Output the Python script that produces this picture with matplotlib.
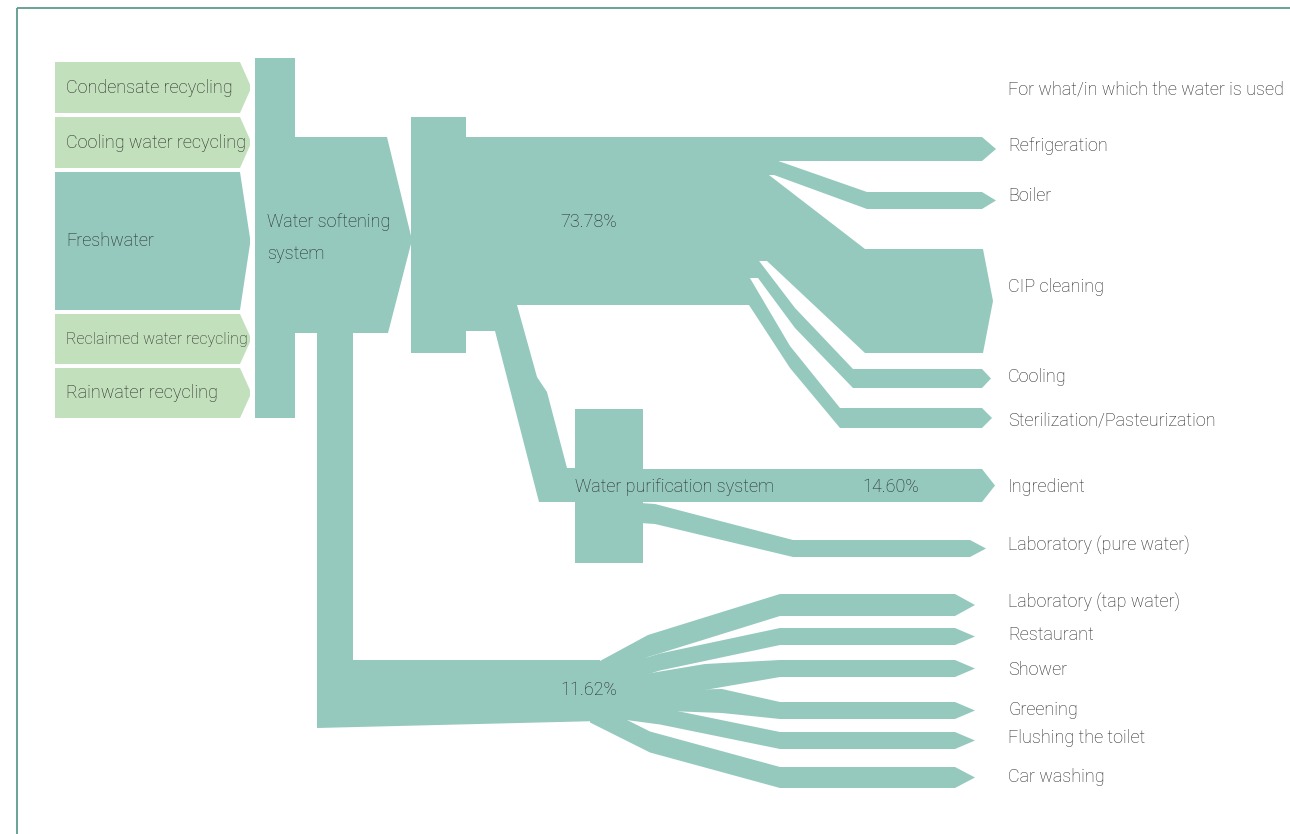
import numpy as np
import matplotlib
matplotlib.use("Agg")
import matplotlib.pyplot as plt
from matplotlib.patches import Polygon, Rectangle

# ---------------------------------------------------------------- DATA
source_labels = ["Condensate recycling", "Cooling water recycling", "Freshwater",
                 "Reclaimed water recycling", "Rainwater recycling"]
source_size = [51, 51, 138, 50, 50]            # relative inflow sizes (box heights)
source_is_fresh = [False, False, True, False, False]

node_labels = ["Water softening\nsystem", "Water purification system"]
branch_pct = [73.78, 14.60, 11.62]             # process water / purified water / tap water

uses_header = "For what/in which the water is used"
main_uses = ["Refrigeration", "Boiler", "CIP cleaning", "Cooling",
             "Sterilization/Pasteurization"]
main_use_size = [24, 17, 104, 19, 20]
pure_uses = ["Ingredient", "Laboratory (pure water)"]
pure_use_size = [33, 17]
tap_uses = ["Laboratory (tap water)", "Restaurant", "Shower", "Greening",
            "Flushing the toilet", "Car washing"]
tap_use_size = [22, 17, 17, 17, 17, 21]

# ---------------------------------------------------------------- STYLE
TEAL = "#95c9be"
GREEN = "#c2e0bb"
TXT = "#262626"
BORDER = "#5f9a8c"
FONT = ["Roboto", "Liberation Sans", "DejaVu Sans"]
WEIGHT = "light"
FS = 13.0

# ---------------------------------------------------------------- LAYOUT (pixels)
SRC = dict(x0=55, x1=240, tip=250, top=62, gap=4, text_x=66, text_max_x=246)
SOFT = dict(bar=(255, 58, 295, 418), arrow_x1=387, arrow_tip=412,
            arrow_top=137, arrow_bot=333, text=(267, 238))
NODE2 = (411, 117, 466, 353)
MAIN = dict(trunk=(466, 137, 745, 305),
            split_x=[700, 774, 767, 758, 749],
            split_w=[24, 14, 86, 17, 27],
            via=[[], [], [], [(795, 318, 20)], [(790, 357, 22)]],
            bend_x=[700, 867, 865, 853, 840],
            end_top=[137, 192, 249, 369, 408],
            body_end=[982, 982, 983, 982, 982],
            tip=[996, 996, 993, 991, 992],
            label_y=[146, 196, 287, 377, 420],
            pct_xy=(589, 222))
PURE = dict(node=(575, 409, 643, 563),
            branch=[(466, 305), (517, 305), (537, 377), (547, 392), (567, 468),
                    (600, 468), (600, 502), (539, 502), (495, 331), (466, 331)],
            starts=[[(600, None, None)], [(640, 513, 20), (655, 514, 20)]],
            bend_x=[600, 793],
            end_top=[469, 540],
            body_end=[982, 970], tip=[995, 986],
            label_y=[487, 545],
            text_xy=(575, 487), pct_xy=(891, 487))
TAP = dict(down=[(317, 333), (353, 333), (353, 660), (600, 660), (600, 721), (317, 728)],
           starts=[[(600, 672, 22), (648, 646, 22)],
                   [(600, 680, 17), (660, 662, 17)],
                   [(600, 690, 17), (705, 677, 26)],
                   [(600, 700, 17), (722, 701, 24)],
                   [(600, 708, 17), (660, 716, 17)],
                   [(590, 712, 21), (650, 742, 21)]],
           bend_x=780,
           end_top=[594, 628, 660, 702, 732, 767],
           body_end=955, tip=975,
           label_y=[602, 635, 670, 710, 738, 777],
           pct_xy=(589, 690))
LABEL_X = 1008
HEADER_Y = 89

# ---------------------------------------------------------------- HELPERS
fig = plt.figure(figsize=(12.9, 8.34), dpi=100)
ax = fig.add_axes([0, 0, 1, 1])
ax.set_xlim(0, 1290)
ax.set_ylim(834, 0)
ax.axis("off")
renderer = fig.canvas.get_renderer()


def poly(pts, color=TEAL, z=2):
    ax.add_patch(Polygon(pts, closed=True, facecolor=color, edgecolor="none",
                         linewidth=0, zorder=z))


def rect(x0, y0, x1, y1, color=TEAL, z=2):
    ax.add_patch(Rectangle((x0, y0), x1 - x0, y1 - y0, facecolor=color,
                           edgecolor="none", linewidth=0, zorder=z))


def band(waypoints, body_end, tip):
    """waypoints: list of (x, y_center, width); ends with an arrow tip."""
    xs = [p[0] for p in waypoints] + [body_end]
    ys = [p[1] for p in waypoints] + [waypoints[-1][1]]
    ws = [p[2] for p in waypoints] + [waypoints[-1][2]]
    top = [(x, y - w / 2) for x, y, w in zip(xs, ys, ws)]
    bot = [(x, y + w / 2) for x, y, w in zip(xs, ys, ws)]
    poly(top + [(tip, ys[-1])] + bot[::-1])


def label(x, y, s, ha="left", size=FS, **kw):
    return ax.text(x, y, s, ha=ha, va="center", color=TXT, fontsize=size,
                   family=FONT, weight=WEIGHT, zorder=5, **kw)


# ---------------------------------------------------------------- BORDER
ax.plot([17, 1290], [8, 8], color=BORDER, lw=1.3, solid_capstyle="butt")
ax.plot([17, 17], [8, 834], color=BORDER, lw=1.3, solid_capstyle="butt")

# ---------------------------------------------------------------- SOURCES
px_per_unit = fig.dpi * fig.get_figwidth() / 1290
y = SRC["top"]
for name, size, fresh in zip(source_labels, source_size, source_is_fresh):
    y0, y1 = y, y + size
    ym = (y0 + y1) / 2
    poly([(SRC["x0"], y0), (SRC["x1"], y0), (SRC["tip"], ym - 3),
          (SRC["tip"], ym + 3), (SRC["x1"], y1), (SRC["x0"], y1)],
         color=TEAL if fresh else GREEN)
    t = label(SRC["text_x"], ym, name)
    avail = (SRC["text_max_x"] - SRC["text_x"]) * px_per_unit
    wpx = t.get_window_extent(renderer).width
    if wpx > avail:
        t.set_fontsize(FS * avail / wpx)
    y = y1 + SRC["gap"]

# ---------------------------------------------------------------- SOFTENING NODE
bx0, by0, bx1, by1 = SOFT["bar"]
rect(bx0, by0, bx1, by1)
at, ab = SOFT["arrow_top"], SOFT["arrow_bot"]
poly([(bx1 - 2, at), (SOFT["arrow_x1"], at), (SOFT["arrow_tip"], (at + ab) / 2 + 5),
      (SOFT["arrow_x1"] + 1, ab), (bx1 - 2, ab)])
label(SOFT["text"][0], SOFT["text"][1], node_labels[0], linespacing=1.95)

# ---------------------------------------------------------------- NODE 2 + MAIN FLOW
rect(*NODE2)
tx0, ty0, tx1, ty1 = MAIN["trunk"]
rect(tx0, ty0, tx1, ty1)
ys = ty0
for i, (name, size) in enumerate(zip(main_uses, main_use_size)):
    w0 = MAIN["split_w"][i]
    c0 = ys + w0 / 2
    ys += w0
    ce = MAIN["end_top"][i] + size / 2
    if i == 0:
        pts = [(tx0, ce, size), (MAIN["bend_x"][i], ce, size)]
    else:
        # widen slightly upwards so neighbouring bands overlap without seams
        pts = [(tx1 - 40, c0 - 0.75, w0 + 1.5), (MAIN["split_x"][i], c0 - 0.75, w0 + 1.5)] + \
              MAIN["via"][i] + [(MAIN["bend_x"][i], ce, size)]
    band(pts, MAIN["body_end"][i], MAIN["tip"][i])
    label(LABEL_X, MAIN["label_y"][i], name)
label(MAIN["pct_xy"][0], MAIN["pct_xy"][1], f"{branch_pct[0]:.2f}%", ha="center")

# ---------------------------------------------------------------- PURIFICATION
poly(PURE["branch"])
rect(*PURE["node"])
for i, (name, size) in enumerate(zip(pure_uses, pure_use_size)):
    ce = PURE["end_top"][i] + size / 2
    starts = [(x, ce if yc is None else yc, size if w is None else w)
              for x, yc, w in PURE["starts"][i]]
    band(starts + [(PURE["bend_x"][i], ce, size)], PURE["body_end"][i], PURE["tip"][i])
    label(LABEL_X, PURE["label_y"][i], name)
label(PURE["text_xy"][0], PURE["text_xy"][1], node_labels[1])
label(PURE["pct_xy"][0], PURE["pct_xy"][1], f"{branch_pct[1]:.2f}%", ha="center")

# ---------------------------------------------------------------- TAP WATER
poly(TAP["down"])
for i, (name, size) in enumerate(zip(tap_uses, tap_use_size)):
    ce = TAP["end_top"][i] + size / 2
    band(TAP["starts"][i] + [(TAP["bend_x"], ce, size)], TAP["body_end"], TAP["tip"])
    label(LABEL_X, TAP["label_y"][i], name)
label(TAP["pct_xy"][0], TAP["pct_xy"][1], f"{branch_pct[2]:.2f}%", ha="center")

label(LABEL_X, HEADER_Y, uses_header)

fig.savefig("out.png", dpi=100, facecolor="white")
